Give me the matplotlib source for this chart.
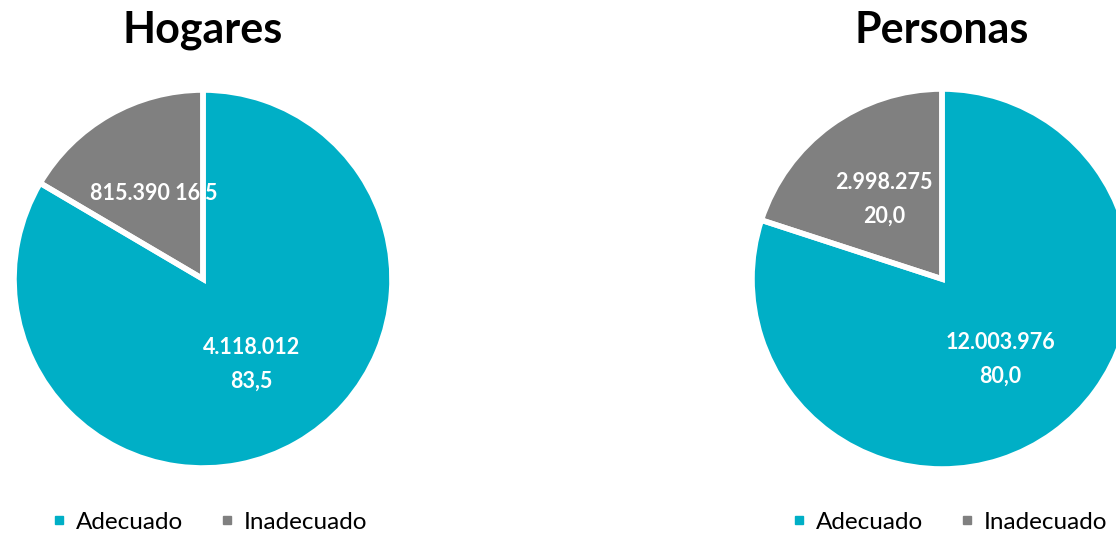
import matplotlib.pyplot as plt
from matplotlib.lines import Line2D

plt.rcParams['font.family'] = ['Lato', 'DejaVu Sans']

categorias = ['Adecuado', 'Inadecuado']
hogares = [4118012, 815390]
hogares_pct = ['83,5', '16,5']
hogares_txt = ['4.118.012\n83,5', '815.390 16,5']
personas = [12003976, 2998275]
personas_pct = ['80,0', '20,0']
personas_txt = ['12.003.976\n80,0', '2.998.275\n20,0']
colores = ['#00AFC6', '#808080']

W, H = 1116, 534
fig = plt.figure(figsize=(W / 100, H / 100), dpi=100)


def pastel(cx, cy, r, valores, textos, titulo, leg_x):
    ax = fig.add_axes([(cx - r) / W, 1 - (cy + r) / H, 2 * r / W, 2 * r / H])
    wedges, txts = ax.pie(valores, labels=textos, colors=colores, startangle=90,
                          counterclock=False, labeldistance=0.52,
                          wedgeprops=dict(linewidth=0),
                          textprops=dict(color='white', fontsize=15.5, fontweight='bold',
                                         ha='center', va='center', linespacing=1.75))
    for t in txts:
        t.set_ha('center')
    # bordes blancos encima del texto
    w2, _ = ax.pie(valores, colors=colores, startangle=90, counterclock=False,
                   wedgeprops=dict(facecolor='none', edgecolor='white', linewidth=4))
    for w in w2:
        w.set_zorder(5)
        w.set_facecolor('none')
    ax.set_xlim(-1, 1)
    ax.set_ylim(-1, 1)
    ax.set_aspect('equal')
    fig.text(cx / W, 1 - 30 / H, titulo, ha='center', va='center',
             fontsize=31, fontweight='bold')
    handles = [Line2D([], [], marker='s', linestyle='', color=c, markersize=6) for c in colores]
    fig.legend(handles, categorias, loc='center', bbox_to_anchor=(leg_x / W, 1 - 522 / H),
               ncol=2, frameon=False, fontsize=17.5, handletextpad=0.3,
               columnspacing=1.4, handlelength=0.8)


pastel(203, 279, 189, hogares, hogares_txt, 'Hogares', 208)
pastel(942, 279, 190, personas, personas_txt, 'Personas', 948)

fig.savefig('out.png', dpi=100)
